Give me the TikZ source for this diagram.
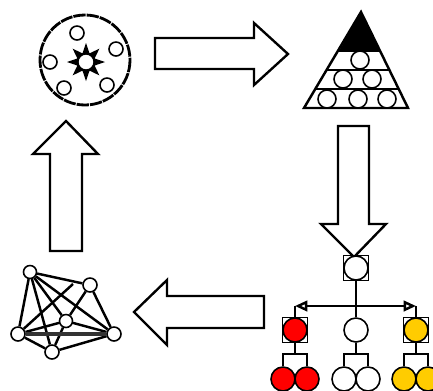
\documentclass[tikz,border=0pt]{standalone}
\usetikzlibrary{arrows.meta}
\definecolor{famred}{RGB}{255,0,0}
\definecolor{famyellow}{RGB}{255,204,0}
\tikzset{
    ball/.style={circle, draw, line width=0.9pt, fill=white, inner sep=0pt, minimum size=#1},
    ball/.default=0.48cm,
    boxmark/.style={rectangle, draw, line width=0.5pt, inner sep=0pt, minimum size=0.5cm},
    blockarrow/.style={draw, line width=1.35pt, fill=white, line join=miter},
    wire/.style={line width=1.4pt},
    bar/.style={line width=1.5pt},
}
\begin{document}
\begin{tikzpicture}[x=0.02cm, y=-0.02cm]
    \useasboundingbox (0, 0) rectangle (433, 390);
    \clip (0, 0) rectangle (433, 390);
    % arrows between the four pictures
    \path[blockarrow] (155, 38) -- (254, 38) -- (254, 23) -- (288, 54) -- (254, 85) -- (254, 69) -- (155, 69) -- cycle;
    \path[blockarrow] (338, 126) -- (369, 126) -- (369, 224) -- (386, 224) -- (354, 257) -- (321, 224) -- (338, 224) -- cycle;
    \path[blockarrow] (264, 296) -- (167, 296) -- (167, 280) -- (134, 312) -- (167, 345) -- (167, 328) -- (264, 328) -- cycle;
    \path[blockarrow] (50, 251) -- (50, 154) -- (33, 154) -- (66, 121) -- (98, 154) -- (82, 154) -- (82, 251) -- cycle;
    % dashed circle
    \draw[line width=1.6pt, dash pattern=on 7pt off 0.6pt] (85, 60) circle (45);
    \foreach \name/\px/\py in {sa/77/33, sb/116/49, sc/50/62, sd/64/88, se/107/85} {
        \node[ball=0.28cm] (\name) at (\px, \py) {};
    }
    \foreach \ang in {0, 45, ..., 315} {
        \fill[shift={(86, 62)}, rotate=\ang] (19, 0) -- (0, 6.5) -- (0, -6.5) -- cycle;
    }
    \node[ball=0.34cm, line width=1.3pt] (hub) at (86, 62) {};
    % pyramid
    \fill (361, 12) -- (339, 51) -- (380, 51) -- cycle;
    \draw[line width=1.4pt] (339, 51) -- (380, 51);
    \draw[line width=1.4pt] (327, 70) -- (389, 70);
    \draw[line width=1.4pt] (316, 89) -- (399, 89);
    \draw[line width=1.4pt, line join=miter] (361, 12) -- (304, 108) -- (408, 108) -- cycle;
    \foreach \name/\px/\py in {pa/360/60, pb/343/79, pc/372/79, pd/327/99, pe/358/99, pf/387/99} {
        \node[ball=0.36cm] (\name) at (\px, \py) {};
    }
    % tree
    \node[boxmark] (rootbox) at (356, 268) {};
    \node[ball] (root) at (356, 268) {};
    \node[boxmark] (redbox) at (295, 330) {};
    \node[ball, fill=famred] (red) at (295, 330) {};
    \node[ball] (white) at (356, 330) {};
    \node[boxmark] (yellowbox) at (416, 330) {};
    \node[ball, fill=famyellow] (yellow) at (416, 330) {};
    \node[ball, fill=famred] (reda) at (283, 379) {};
    \node[ball, fill=famred] (redb) at (307, 379) {};
    \node[ball] (whitea) at (344, 379) {};
    \node[ball] (whiteb) at (368, 379) {};
    \node[ball, fill=famyellow] (yellowa) at (404, 379) {};
    \node[ball, fill=famyellow] (yellowb) at (428, 379) {};
    \coordinate (bus) at (356, 306);
    \coordinate (busl) at (295, 306);
    \coordinate (busr) at (416, 306);
    \coordinate (jred) at (295, 354);
    \coordinate (jwhite) at (356, 354);
    \coordinate (jyellow) at (416, 354);
    \draw[wire] (root) -- (white);
    \draw[wire, -{Triangle[open, length=7pt, width=6pt]}] (bus) -- (busl);
    \draw[wire, -{Triangle[open, length=7pt, width=6pt]}] (bus) -- (busr);
    \draw[wire] (busl) -- (red);
    \draw[wire] (busr) -- (yellow);
    \draw[wire] (red) -- (jred);
    \draw[wire] (white) -- (jwhite);
    \draw[wire] (yellow) -- (jyellow);
    \draw[bar] (reda) |- (jred) -| (redb);
    \draw[bar] (whitea) |- (jwhite) -| (whiteb);
    \draw[bar] (yellowa) |- (jyellow) -| (yellowb);
    % network
    \node[ball=0.26cm] (na) at (30, 272) {};
    \node[ball=0.28cm] (nb) at (90, 285) {};
    \node[ball=0.26cm] (nc) at (66, 321) {};
    \node[ball=0.28cm] (nd) at (18, 334) {};
    \node[ball=0.28cm] (ne) at (114, 334) {};
    \node[ball=0.28cm] (nf) at (52, 352) {};
    \coordinate (nend) at (73, 284);
    \foreach \from/\to in {na/nb, na/nd, na/nc, na/ne, na/nf, nb/ne, nb/nc, nd/nc, nd/nf, nc/ne, nc/nf, ne/nf} {
        \draw[wire] (\from) -- (\to);
    }
    \draw[wire] (nd) -- (nend);
    \draw[line width=2pt, black!80] (nd) -- (ne);
\end{tikzpicture}
\end{document}
